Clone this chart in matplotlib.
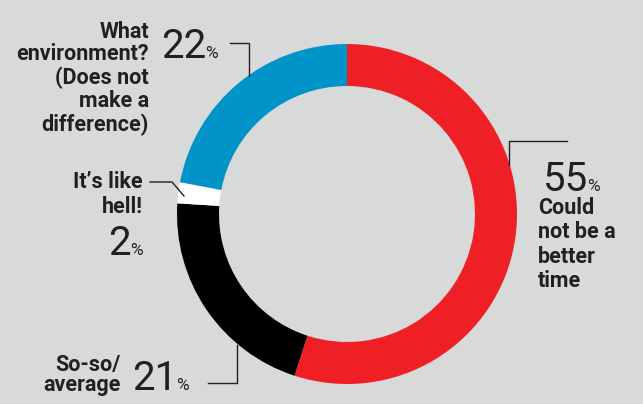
import matplotlib
matplotlib.use("Agg")
import matplotlib.pyplot as plt

# survey answers, clockwise from 12 o'clock
labels = ["Could not be a better time", "So-so/average", "It's like hell!",
          "What environment? (Does not make a difference)"]
values = [55, 21, 2, 22]
colors = ["#ee1f25", "#000000", "#ffffff", "#0094c8"]

BG = "#d8dad9"
INK = "#231f20"
BOLD = dict(family=["Roboto", "DejaVu Sans"], weight="bold",
            fontsize=15.5, color=INK)
NUM = dict(family=["Roboto", "DejaVu Sans"], weight="normal", fontsize=29, color=INK)
PCT = dict(family=["Roboto", "DejaVu Sans"], weight="normal", fontsize=12.5, color=INK)

fig = plt.figure(figsize=(6.43, 4.04), dpi=100, facecolor=BG)
ax = fig.add_axes([0, 0, 1, 1])
ax.set_facecolor(BG)

# y axis inverted so coordinates are in image pixels
ax.pie(values, colors=colors, center=(347, 214), radius=170,
       startangle=-90, counterclock=True,
       wedgeprops=dict(width=42, edgecolor="none", linewidth=0))
ax.set_xlim(0, 643)
ax.set_ylim(404, 0)
ax.set_aspect("auto")
ax.axis("off")


def label_lines(x, baselines, lines, ha):
    for y, s in zip(baselines, lines):
        ax.text(x, y, s, ha=ha, va="baseline", **BOLD)


def pct(x, y, v):
    ax.text(x, y, str(v), ha="right", va="baseline", **NUM)
    ax.text(x - 1, y, "%", ha="left", va="baseline", **PCT)


# What environment? 22%
label_lines(149, [38, 60, 84, 107, 131],
            ["What", "environment?", "(Does not", "make a", "difference)"], "right")
pct(206, 58, values[3])
ax.plot([230, 249, 249], [43, 43, 76], color=INK, lw=1)

# It's like hell! 2%
label_lines(143, [188, 213], ["It\u2019s like", "hell!"], "right")
pct(131, 255, values[2])
ax.plot([150, 172, 184], [182, 182, 196], color=INK, lw=1)

# So-so/average 21%
label_lines(121, [371, 391], ["So-so/", "average"], "right")
pct(177, 390, values[1])
ax.plot([208, 237, 237], [383, 383, 345], color=INK, lw=1)

# Could not be a better time 55%
pct(588, 191, values[0])
label_lines(538, [214, 238, 263, 287], ["Could", "not be a", "better", "time"], "left")
ax.plot([509, 509, 567], [165, 141, 141], color=INK, lw=1)

fig.savefig("out.png", dpi=100, facecolor=BG)
